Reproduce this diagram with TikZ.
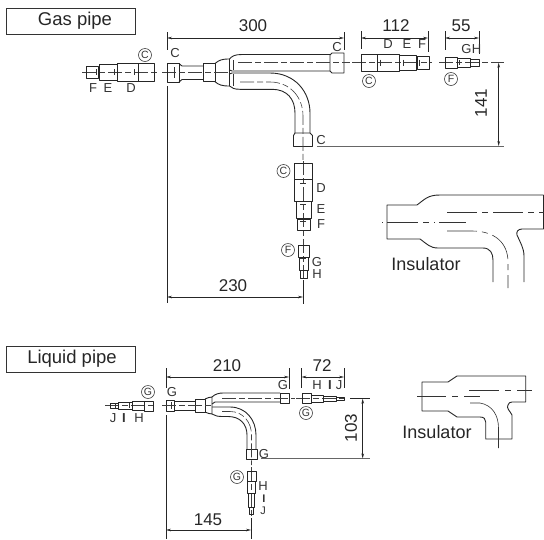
\documentclass[tikz,border=0pt]{standalone}
\usepackage{fontspec}
\setmainfont{Liberation Sans}
\usetikzlibrary{arrows.meta}
\tikzset{
  pipe/.style={draw=black!85,line width=0.9pt,line join=round},
  heavy/.style={draw=black!85,line width=1.1pt},
  thin line/.style={draw=black!80,line width=0.6pt},
  centerline/.style={draw=black!75,line width=0.6pt,dash pattern=on 14pt off 3pt on 6pt off 3pt},
  dimline/.style={draw=black!85,line width=0.7pt,{Stealth[length=5pt,width=2.6pt]}-{Stealth[length=5pt,width=2.6pt]}},
  extline/.style={draw=black!85,line width=0.7pt},
  leaderline/.style={draw=black!60,line width=1pt},
  dimtext/.style={font=\fontsize{17}{18}\selectfont,text=black!85,inner sep=0pt},
  letter/.style={font=\fontsize{13}{14}\selectfont,text=black!80,inner sep=0pt},
  circled/.style={circle,draw=black!75,line width=0.6pt,minimum size=13pt,inner sep=0pt,font=\fontsize{10.5}{11}\selectfont,text=black!80},
  titlebox/.style={draw=black!80,line width=0.8pt,minimum width=129pt,minimum height=26pt,inner sep=0pt,text=black!85},
  titletext/.style={font=\fontsize{18.5}{20}\selectfont,text=black!85,inner sep=0pt},
  instext/.style={font=\fontsize{18}{20}\selectfont,text=black!85,inner sep=0pt}
}
\begin{document}
\begin{tikzpicture}[x=1pt,y=-1pt]
\useasboundingbox (0,0) rectangle (544,539);
%
% ---------- titles
\node[titlebox] (gastitle) at (70.5,21) {};
\node[titletext] (gaslabel) at (75,21) {Gas pipe};
\node[titlebox] (liqtitle) at (70.5,359) {};
\node[titletext] (liqlabel) at (72,359) {Liquid pipe};
%
% ---------- GAS: left reducers
\draw[centerline] (82,72) -- (157,72);
\foreach \a/\b/\c/\d in {86/66/98/78,99/64/117/80,117/63.5/138/81,138/63.5/154/81}
  \draw[pipe] (\a,\b) rectangle (\c,\d);
\foreach \a in {96,114,134} \draw[thin line] (\a,69) -- (\a,75);
\node[letter] (lf) at (93,88) {F};
\node[letter] (le) at (108,88) {E};
\node[letter] (ld) at (131,88) {D};
\node[circled] (lc) at (145,55) {C};
%
% ---------- GAS: main tee
\draw[pipe] (167,63.5) rectangle (179,82);
\draw[pipe] (179,63.5) -- (182,66) -- (203,66) (179,82) -- (182,79.5) -- (203,79.5);
\draw[pipe] (203,63.5) rectangle (215,81.7);
\draw[pipe] (215,63.5) .. controls (219,60) and (222,59) .. (229.5,59) -- (229.5,86) .. controls (222,86) and (219,85) .. (215,81.7);
\draw[pipe] (229.5,59) .. controls (232,56) and (235,54.5) .. (242,54.5) -- (330,54.5);
\draw[pipe] (229.5,70) -- (232,71) -- (330,71);
\draw[pipe] (332,53) -- (344,53) -- (344,73) -- (332,73) -- (330,71) -- (330,55) -- cycle;
\draw[pipe] (229.5,86) .. controls (232,88) and (234,89.3) .. (240,89.3) -- (272,89.3) .. controls (287,89.3) and (295,99) .. (295,113) -- (295,133);
\draw[pipe] (229.5,74) -- (232,73) -- (270,73) .. controls (295,73) and (310,92) .. (310,113) -- (310,133);
\draw[pipe] (295,133) -- (293.5,135.5) -- (293.5,146.5) -- (312.5,146.5) -- (312.5,135.5) -- (310,133) -- cycle;
\draw[thin line] (233,60) -- (233,70) (233,74) -- (233,86);
\draw[centerline] (162,72) -- (229,72);
\draw[centerline] (238,62.7) -- (350,62.7);
\draw[centerline] (240,82) -- (270,82) .. controls (290,82) and (303,97) .. (303,116) -- (303,160);
\draw[thin line] (174,67) -- (174,78);
%
\node[letter] (tc1) at (175,53) {C};
\node[letter] (tc2) at (337,47) {C};
\node[letter] (tc3) at (321,140) {C};
%
% ---------- GAS: right reducers
\draw[centerline] (352,62.7) -- (432,62.7);
\foreach \a/\b/\c/\d in {361/54/377/71,377/54/399/71,399/55.5/416/70,417/56/429/69}
  \draw[pipe] (\a,\b) rectangle (\c,\d);
\foreach \a in {380,403,419} \draw[thin line] (\a,59.5) -- (\a,66);
\draw[centerline] (439,62.7) -- (504,62.7);
\foreach \a/\b/\c/\d in {445/57/457/68,457/58/470/67.5,470/59/479/66}
  \draw[pipe] (\a,\b) rectangle (\c,\d);
\draw[thin line] (459,60) -- (459,65);
\node[circled] (rc) at (369,81) {C};
\node[circled] (rf) at (451,79) {F};
%
% ---------- GAS: lower reducers
\draw[centerline] (303,161) -- (303,282);
\foreach \a/\b/\c/\d in {294/163/312/179,294/179/312/201,296/201/311/218,297/219/310/230,298/245/309/257,299/257/308.5/270,300/270/307/278}
  \draw[pipe] (\a,\b) rectangle (\c,\d);
\foreach \a in {183,204,221,258} \draw[thin line] (300,\a) -- (306,\a);
\node[circled] (dc) at (283.5,171) {C};
\node[circled] (df) at (288,250) {F};
\node[letter] (dd) at (321,188) {D};
\node[letter] (de) at (321,209) {E};
\node[letter] (dff) at (321,224.5) {F};
\node[letter] (dg) at (317,262) {G};
\node[letter] (dh) at (317,274) {H};
%
% ---------- GAS: dimensions
\draw[extline] (167,32) -- (167,50) (167,66) -- (167,77) (167,86) -- (167,303);
\draw[extline] (344,32) -- (344,50);
\draw[dimline] (167,38) -- (344,38);
\node[dimtext] (d300) at (253,26) {300};
\draw[extline] (361,31) -- (361,49) (428,31) -- (428,52);
\draw[dimline] (361,38) -- (428,38);
\node[dimtext] (d112) at (396,26) {112};
\node[letter] (rd) at (388,44) {D};
\node[letter] (re) at (407,44) {E};
\node[letter] (rff) at (422,44) {F};
\draw[extline] (445,31) -- (445,50) (479,31) -- (479,54);
\draw[dimline] (445,38) -- (479,38);
\node[dimtext] (d55) at (461,26) {55};
\node[letter] (rg) at (466.5,49) {G};
\node[letter] (rh) at (476.5,49) {H};
\draw[leaderline] (317,146) -- (504,146);
\draw[dimline] (498.7,62.7) -- (498.7,146);
\node[dimtext,rotate=90] (d141) at (481,103) {141};
\draw[extline] (303,280) -- (303,304);
\draw[dimline] (167,297) -- (303,297);
\node[dimtext] (d230) at (233,286) {230};
%
% ---------- GAS: insulator
\draw[pipe] (543.5,195) -- (440,195) .. controls (428,195) and (425,199) .. (417,205) -- (387,205) -- (387,239) -- (420,239) .. controls (427,244) and (430,248) .. (438,248) -- (483,248) .. controls (490,248) and (493,253) .. (493,260) -- (493,282);
\draw[pipe] (543.5,195) -- (543.5,229) -- (522,229) .. controls (518,229) and (516,232) .. (517,235) .. controls (520,242) and (524,248) .. (524,256) -- (524,282);
\draw[thin line,dash pattern=on 30pt off 5pt on 6pt off 5pt] (447,231) -- (472,231) .. controls (495,231) and (508,243) .. (508,262) -- (508,288);
\draw[thin line,dash pattern=on 30pt off 5pt on 6pt off 5pt] (447,212) -- (544,212);
\draw[thin line,dash pattern=on 1pt off 4pt on 31pt off 5pt on 6pt off 5pt] (382,222) -- (466,222);
\node[instext] (ins1) at (426,264) {Insulator};
%
% ---------- LIQUID: left reducers
\draw[centerline] (105,405.7) -- (156,405.7);
\foreach \a/\b/\c/\d in {110/403/118/408,118/402/132/409,132/401/144/410.5,144/401/153/411}
  \draw[pipe] (\a,\b) rectangle (\c,\d);
\foreach \a in {115,129} \draw[thin line] (\a,403) -- (\a,408);
\node[letter] (lj) at (113,418) {J};
\node[letter] (li) at (124,418) {\textbf{I}};
\node[letter] (lh) at (139,418) {H};
\node[circled] (lg) at (148,392) {G};
%
% ---------- LIQUID: main tee
\draw[pipe] (166,400) rectangle (174,411);
\draw[pipe] (174,401) rectangle (195,410);
\draw[pipe] (195,399) rectangle (205,412);
\draw[pipe] (205,399) .. controls (208,398) and (209,397) .. (212,397) -- (212,414) .. controls (209,414) and (208,413) .. (205,412);
\draw[pipe] (212,397) .. controls (215,394) and (219,393) .. (223,393) -- (280,393);
\draw[pipe] (212,404) -- (215,402) -- (280,402);
\draw[pipe] (280,393) rectangle (289,403);
\draw[pipe] (212,414) .. controls (215,416) and (218,416.5) .. (223,416.5) -- (228,416.5) .. controls (240,416.5) and (247,424) .. (247,435) -- (247,449);
\draw[pipe] (212,407) -- (230,407) .. controls (246,407) and (256,420) .. (256,435) -- (256,449);
\draw[pipe] (246,449) rectangle (257,459);
\draw[centerline] (162,405.7) -- (212,405.7);
\draw[centerline] (222,398) -- (295,398);
\draw[centerline] (222,411.5) -- (230,411.5) .. controls (243,411.5) and (251.5,422) .. (251.5,435) -- (251.5,465);
\draw[thin line] (171,402) -- (171,409);
\node[letter] (lg1) at (172,392) {G};
\node[letter] (lg2) at (283,385) {G};
\node[letter] (lg3) at (264,454) {G};
%
% ---------- LIQUID: right reducers
\draw[centerline] (296,398.7) -- (347,398.7);
\foreach \a/\b/\c/\d in {302/393/311/403,311/395/323/402,323/396/336/401,336/397/344/400.5}
  \draw[pipe] (\a,\b) rectangle (\c,\d);
\draw[extline] (350,398.7) -- (370,398.7);
\node[circled] (rg2) at (306,413) {G};
\node[letter] (rh2) at (317,385) {H};
\node[letter] (ri2) at (330,385) {\textbf{I}};
\node[letter] (rj2) at (339,385) {J};
%
% ---------- LIQUID: lower reducers
\draw[centerline] (251.5,467) -- (251.5,517);
\foreach \a/\b/\c/\d in {247/471/256/481,247/481/255.5/493,248/493/254.5/507,249/507/253.5/514}
  \draw[pipe] (\a,\b) rectangle (\c,\d);
\node[circled] (dg2) at (237,477) {G};
\node[letter] (dh2) at (263,486) {H};
\node[letter,font=\fontsize{11}{12}\selectfont] (di2) at (264,499) {\textbf{I}};
\node[letter,font=\fontsize{11}{12}\selectfont] (dj2) at (263,511) {J};
%
% ---------- LIQUID: dimensions
\draw[extline] (166,368) -- (166,388) (166,415) -- (166,539);
\draw[extline] (289,368) -- (289,389);
\draw[dimline] (166,377) -- (289,377);
\node[dimtext] (d210) at (227,366) {210};
\draw[extline] (301.5,368) -- (301.5,388) (344,368) -- (344,388);
\draw[dimline] (301.5,377) -- (344,377);
\node[dimtext] (d72) at (322,366) {72};
\draw[leaderline] (261,458.5) -- (370,458.5);
\draw[dimline] (362.7,398.7) -- (362.7,458.5);
\node[dimtext,rotate=90] (d103) at (351,428) {103};
\draw[extline] (251,518) -- (251,539);
\draw[dimline] (166,530) -- (251,530);
\node[dimtext] (d145) at (208,520) {145};
%
% ---------- LIQUID: insulator
\draw[pipe] (525.7,376) -- (457,376) -- (448,382) -- (422,382) -- (422,411) -- (448,411) -- (457,417) -- (480,417) .. controls (484,417) and (485.7,419) .. (485.7,422) -- (485.7,439) -- (512,439) -- (512,415) .. controls (510,411) and (506,408) .. (508,405) .. controls (508.5,403) and (510,402) .. (512,402) -- (525.7,402) -- cycle;
\draw[thin line,dash pattern=on 30pt off 6pt on 6pt off 6pt] (469,390) -- (532,390);
\draw[thin line,dash pattern=on 29pt off 6pt on 6pt off 6pt] (417,396) -- (480,396);
\draw[thin line] (470,403) -- (480,403) .. controls (492,405) and (498.5,415) .. (498.5,428) -- (498.5,448);
\node[instext] (ins2) at (437,432) {Insulator};
\end{tikzpicture}
\end{document}
